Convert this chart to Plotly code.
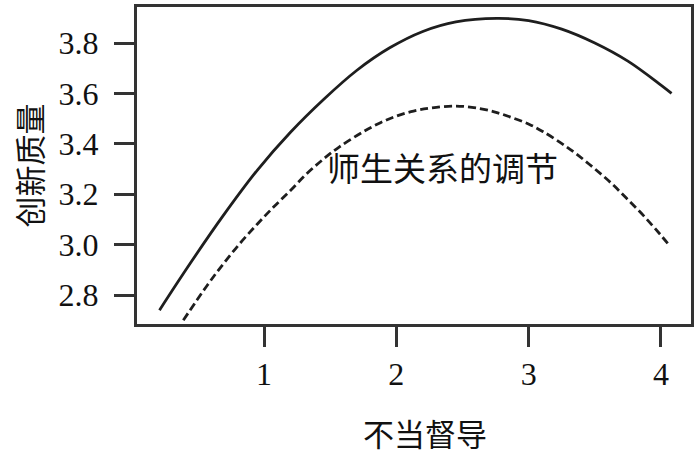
import plotly.graph_objects as go

# Solid curve
solid_x = [0.21, 0.44, 0.69, 0.95, 1.20, 1.45, 1.70, 1.95, 2.20, 2.45, 2.76,
           3.00, 3.25, 3.50, 3.75, 4.00, 4.08]
solid_y = [2.740, 2.924, 3.114, 3.296, 3.446, 3.576, 3.691, 3.781, 3.846, 3.884, 3.898,
           3.889, 3.855, 3.800, 3.728, 3.633, 3.600]

# Dashed curve
dash_x = [0.39, 0.57, 0.69, 0.82, 0.95, 1.07, 1.20, 1.32, 1.45, 1.57, 1.75, 1.88, 2.00,
          2.13, 2.26, 2.45, 2.63, 2.76, 2.88, 3.01, 3.11, 3.24, 3.36, 3.49, 3.62, 3.74,
          3.87, 3.99, 4.07]
dash_y = [2.700, 2.838, 2.922, 3.006, 3.082, 3.148, 3.215, 3.280, 3.340, 3.388, 3.448,
          3.484, 3.510, 3.530, 3.542, 3.550, 3.540, 3.524, 3.503, 3.476, 3.448, 3.405,
          3.360, 3.305, 3.246, 3.184, 3.114, 3.043, 2.993]

x_ticks = [1, 2, 3, 4]
y_ticks = [2.8, 3.0, 3.2, 3.4, 3.6, 3.8]
y_tick_labels = ["2.8", "3.0", "3.2", "3.4", "3.6", "3.8"]

annotation_text = "师生关系的调节"
x_title = "不当督导"
y_title = "创新质量"

CJK = "Noto Sans CJK SC"
NUM = "Liberation Serif"
INK = "#1e1e1e"
FRAME = "#333333"

fig = go.Figure()
fig.add_trace(go.Scatter(x=solid_x, y=solid_y, mode="lines",
                         line=dict(color=INK, width=2.8, shape="spline", smoothing=1.0),
                         showlegend=False, hoverinfo="skip"))
fig.add_trace(go.Scatter(x=dash_x, y=dash_y, mode="lines",
                         line=dict(color=INK, width=2.8, dash="8px,4px", shape="spline", smoothing=1.0),
                         showlegend=False, hoverinfo="skip"))

fig.add_annotation(x=2.35, y=3.31, text=annotation_text, showarrow=False,
                   font=dict(family=CJK, size=33, color="#111"))
fig.add_annotation(xref="paper", yref="paper", x=0.52, y=0, yshift=-108,
                   text=x_title, showarrow=False, xanchor="center", yanchor="middle",
                   font=dict(family=CJK, size=31, color="#111"))
fig.add_annotation(xref="paper", yref="paper", x=0, y=0.5, xshift=-109,
                   text=y_title, showarrow=False, textangle=-90,
                   xanchor="center", yanchor="middle",
                   font=dict(family=CJK, size=31, color="#111"))

fig.update_layout(
    width=700, height=462,
    margin=dict(l=137, r=9, t=7, b=138),
    plot_bgcolor="white", paper_bgcolor="white",
    font=dict(family=NUM, color="#111", size=32),
    xaxis=dict(range=[0.04, 4.227], tickvals=x_ticks, ticktext=[str(v) for v in x_ticks],
               ticks="outside", ticklen=20, tickwidth=3, tickcolor=FRAME,
               showline=True, linewidth=3, linecolor=FRAME, mirror=True,
               showgrid=False, zeroline=False, automargin=False,
               tickfont=dict(family=NUM, size=32, color="#111")),
    yaxis=dict(range=[2.685, 3.943], tickvals=y_ticks, ticktext=y_tick_labels,
               ticks="outside", ticklen=20, tickwidth=3, tickcolor=FRAME,
               showline=True, linewidth=3, linecolor=FRAME, mirror=True,
               showgrid=False, zeroline=False, automargin=False,
               ticklabelstandoff=9,
               tickfont=dict(family=NUM, size=32, color="#111")),
)

fig.write_html("out.html", config={"displayModeBar": False},
               post_script="document.body.style.margin='0';document.body.style.overflow='hidden';")
